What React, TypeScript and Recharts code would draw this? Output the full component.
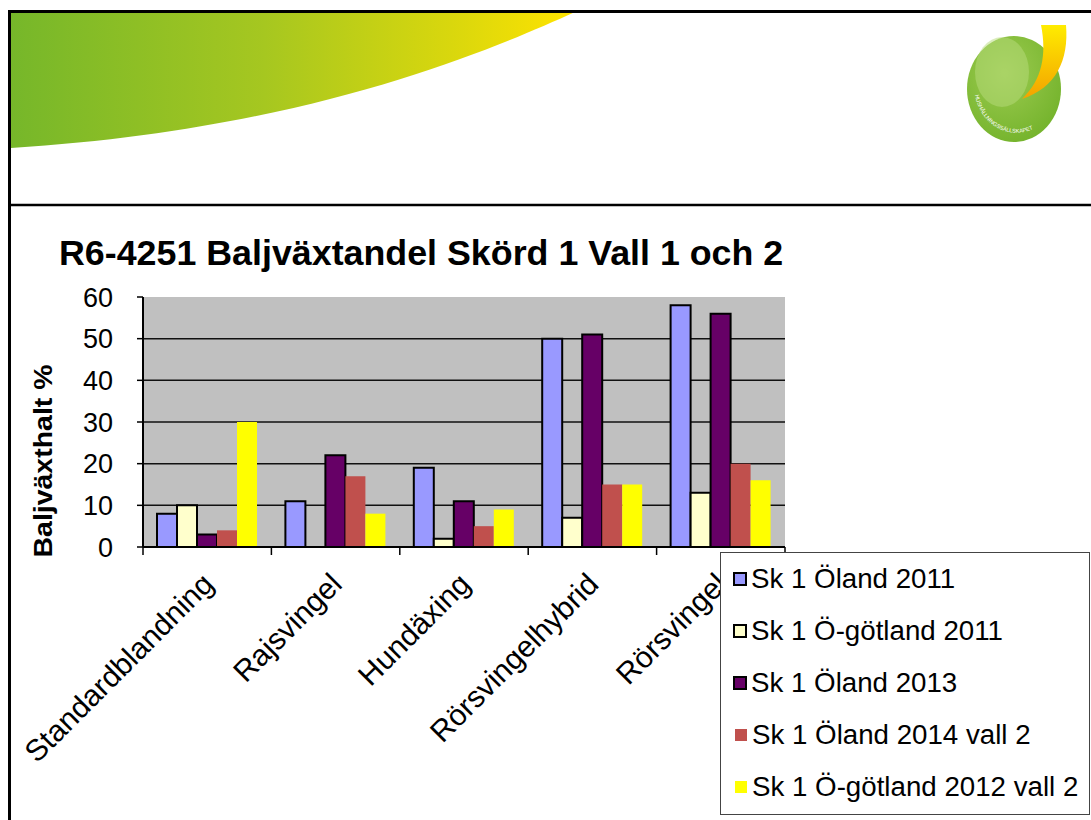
import React from 'react';
import { BarChart, Bar, XAxis, YAxis, CartesianGrid, Legend, Label } from 'recharts';

const categories = ['Standardblandning', 'Rajsvingel', 'Hundäxing', 'Rörsvingelhybrid', 'Rörsvingel'];
const oland2011 = [8, 11, 19, 50, 58];
const ogotland2011 = [10, 0, 2, 7, 13];
const oland2013 = [3, 22, 11, 51, 56];
const oland2014vall2 = [4, 17, 5, 15, 20];
const ogotland2012vall2 = [30, 8, 9, 15, 16];
const yTicks = [0, 10, 20, 30, 40, 50, 60];

const seriesNames = [
  'Sk 1 Öland 2011',
  'Sk 1 Ö-götland 2011',
  'Sk 1 Öland 2013',
  'Sk 1 Öland 2014 vall 2',
  'Sk 1 Ö-götland 2012 vall 2',
];
const seriesColors = ['#9999FF', '#FFFFCC', '#660066', '#C0504D', '#FFFF00'];
const seriesOutlined = [true, true, true, false, false];

const chartTitle = 'R6-4251 Baljväxtandel Skörd 1 Vall 1 och 2';
const yLabel = 'Baljväxthalt %';
const logoText = 'HUSHÅLLNINGSSÄLLSKAPET';

const data = categories.map((name, i) => ({
  name,
  s0: oland2011[i],
  s1: ogotland2011[i],
  s2: oland2013[i],
  s3: oland2014vall2[i],
  s4: ogotland2012vall2[i],
}));

const FONT = '"Liberation Sans", Arial, sans-serif';

const CategoryTick = (props: any) => {
  const { x, y, payload, index, width } = props;
  const band = width / categories.length;
  const last = index === categories.length - 1;
  return (
    <g>
      <line x1={x - band / 2} x2={x - band / 2} y1={y - 8} y2={y} stroke="#000" strokeWidth={1.5} />
      {last && <line x1={x + band / 2} x2={x + band / 2} y1={y - 8} y2={y} stroke="#000" strokeWidth={1.5} />}
      <text
        x={x + 8}
        y={y + 31}
        transform={`rotate(-45, ${x + 8}, ${y + 31})`}
        textAnchor="end"
        fontFamily={FONT}
        fontSize={30}
        fill="#000"
      >
        {payload.value}
      </text>
    </g>
  );
};

const YTitle = (props: any) => {
  const { viewBox } = props;
  const cx = viewBox.x + 52;
  const cy = viewBox.y + viewBox.height / 2 + 39;
  return (
    <text
      x={cx}
      y={cy}
      transform={`rotate(-90, ${cx}, ${cy})`}
      textAnchor="middle"
      fontFamily={FONT}
      fontWeight="bold"
      fontSize={26}
      textLength={193}
      lengthAdjust="spacingAndGlyphs"
      fill="#000"
    >
      {yLabel}
    </text>
  );
};

const LegendBox = () => (
  <div
    style={{
      width: 370,
      height: 263,
      boxSizing: 'border-box',
      border: '1.5px solid #444',
      background: '#fff',
      fontFamily: FONT,
      fontSize: 27.7,
      color: '#000',
    }}
  >
    {seriesNames.map((n, i) => (
      <div key={n} style={{ height: 52, display: 'flex', alignItems: 'center', whiteSpace: 'nowrap' }}>
        <span
          style={{
            display: 'inline-block',
            boxSizing: 'border-box',
            width: seriesOutlined[i] ? 14 : 12,
            height: seriesOutlined[i] ? 14 : 12,
            marginLeft: seriesOutlined[i] ? 12 : 14,
            marginRight: seriesOutlined[i] ? 4 : 5,
            background: seriesColors[i],
            border: seriesOutlined[i] ? '2px solid #000' : 'none',
          }}
        />
        <span>{n}</span>
      </div>
    ))}
  </div>
);

const Backdrop = () => (
  <svg width={1091} height={820} style={{ position: 'absolute', left: 0, top: 0 }}>
    <defs>
      <linearGradient id="swoosh" x1="0" y1="0" x2="1" y2="0">
        <stop offset="0" stopColor="#76b72a" />
        <stop offset="0.45" stopColor="#a6c720" />
        <stop offset="0.8" stopColor="#dcd80c" />
        <stop offset="1" stopColor="#ffe300" />
      </linearGradient>
      <radialGradient id="ball" cx="0.4" cy="0.35" r="0.7">
        <stop offset="0" stopColor="#9ccb50" />
        <stop offset="1" stopColor="#74b32c" />
      </radialGradient>
      <linearGradient id="leaf" x1="0" y1="0" x2="0" y2="1">
        <stop offset="0" stopColor="#ffec00" />
        <stop offset="1" stopColor="#f3a200" />
      </linearGradient>
      <path id="logoArc" d="M 975 95 A 42 46 0 0 0 1058 78" />
    </defs>
    <path d="M 11 12 L 575 12 C 480 55, 300 130, 11 148 Z" fill="url(#swoosh)" />
    <ellipse cx={1014} cy={89} rx={47} ry={53} fill="url(#ball)" />
    <ellipse cx={1002} cy={72} rx={27} ry={35} fill="#b8db7c" opacity={0.5} />
    <path d="M 1041 25 L 1066 25 C 1069 60, 1056 88, 1022 99 C 1042 80, 1047 55, 1041 25 Z" fill="url(#leaf)" />
    <text fontFamily={FONT} fontSize={5.5} fill="#fff">
      <textPath href="#logoArc">{logoText}</textPath>
    </text>
    <line x1={9.5} y1={10} x2={9.5} y2={820} stroke="#000" strokeWidth={3} />
    <line x1={8} y1={11.5} x2={1091} y2={11.5} stroke="#000" strokeWidth={3} />
    <line x1={8} y1={205} x2={1091} y2={205} stroke="#000" strokeWidth={2.5} />
    <text x={59} y={265} fontFamily={FONT} fontWeight="bold" fontSize={35.8} fill="#000">
      {chartTitle}
    </text>
  </svg>
);

export default function App() {
  return (
    <div style={{ position: 'absolute', left: 0, top: 0, width: 1091, height: 820, background: '#fff', overflow: 'hidden' }}>
      <Backdrop />
      <div style={{ position: 'absolute', left: 0, top: 0 }}>
        <BarChart
          width={1091}
          height={820}
          data={data}
          margin={{ top: 297, right: 306, bottom: 0, left: 0 }}
          barCategoryGap={14}
          barGap={0}
        >
          <CartesianGrid
            fill="#C0C0C0"
            vertical={false}
            stroke="#111"
            strokeWidth={1.5}
            horizontalValues={[10, 20, 30, 40, 50]}
          />
          <XAxis
            dataKey="name"
            height={273}
            interval={0}
            tickLine={false}
            tickSize={8}
            tickMargin={0}
            axisLine={{ stroke: '#000', strokeWidth: 2 }}
            tick={<CategoryTick />}
          />
          <XAxis
            xAxisId="top"
            dataKey="name"
            orientation="top"
            height={0}
            tick={false}
            tickLine={false}
            axisLine={{ stroke: '#8a8a8a', strokeWidth: 2 }}
          />
          <YAxis
            width={143}
            domain={[0, 60]}
            ticks={yTicks}
            interval={0}
            tickSize={6}
            tickMargin={24}
            tickLine={{ stroke: '#000', strokeWidth: 1.5 }}
            axisLine={{ stroke: '#000', strokeWidth: 2 }}
            tick={{ fontFamily: FONT, fontSize: 27, fill: '#000' }}
          >
            <Label content={<YTitle />} />
          </YAxis>
          <YAxis
            yAxisId="right"
            orientation="right"
            width={0}
            tick={false}
            tickLine={false}
            axisLine={{ stroke: '#8a8a8a', strokeWidth: 2 }}
          />
          {seriesNames.map((n, i) => (
            <Bar
              key={n}
              dataKey={`s${i}`}
              name={n}
              fill={seriesColors[i]}
              stroke={seriesOutlined[i] ? '#000' : 'none'}
              strokeWidth={seriesOutlined[i] ? 2 : 0}
              isAnimationActive={false}
            />
          ))}
          <Legend
            layout="horizontal"
            verticalAlign="middle"
            align="center"
            content={<LegendBox />}
            wrapperStyle={{ left: 720, top: 552, width: 370, height: 263 }}
          />
        </BarChart>
      </div>
    </div>
  );
}
